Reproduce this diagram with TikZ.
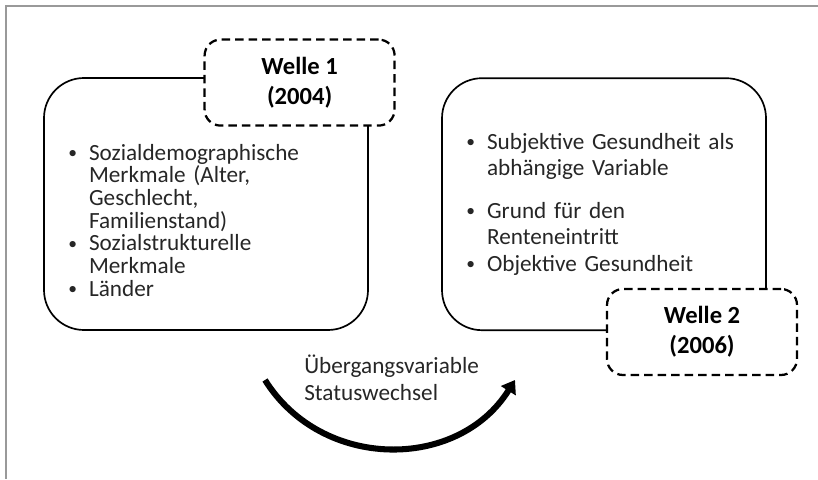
\documentclass[tikz,border=0pt]{standalone}
\usepackage{fontspec}
\setmainfont{Carlito}
\usetikzlibrary{arrows.meta,positioning}
\newcommand{\punkt}{\par\hangindent=0.52cm\hangafter=1\noindent
  \makebox[0.52cm][l]{\fontsize{12.5}{0}\selectfont\raisebox{1.3pt}{\textbullet}}\ignorespaces}

\begin{document}
\begin{tikzpicture}[
    box/.style={draw, line width=1.2pt, rounded corners=1cm, inner sep=0pt,
      minimum width=8.1cm, minimum height=6.3cm},
    welle/.style={draw, line width=1.6pt, dash pattern=on 6pt off 3.6pt,
      rounded corners=0.4cm, fill=white, minimum width=4.75cm, minimum height=2.15cm,
      align=center, font=\fontsize{17.5}{21.3}\selectfont\bfseries},
    liste/.style={anchor=north west, inner sep=0pt, text width=7cm, text=black!85},
  ]
  \useasboundingbox (0,0) rectangle (20.45,11.975);
  \draw[black!40, line width=1pt] (20.45,11.825) -- (0.15,11.825) -- (0.15,0);
  % erste Welle
  \node[box] (box1) at (5.15,6.875) {};
  \node[welle] (welle1) at (7.49,9.91) {Welle 1\\(2004)};
  \node[liste, font=\fontsize{16.5}{16.1}\selectfont] (liste1) at (1.7,8.54)
    {\raggedright
     \punkt Sozialdemographische\newline Merkmale (Alter,\newline Geschlecht,\newline Familienstand)
     \punkt Sozialstrukturelle\newline Merkmale
     \punkt Länder\par};
  % zweite Welle
  \node[box] (box2) at (15.1,6.87) {};
  \node[welle] (welle2) at (17.55,3.675) {Welle 2\\(2006)};
  \node[liste, font=\fontsize{16.5}{19}\selectfont] (liste2) at (11.65,8.92)
    {\raggedright
     \punkt Subjektive Gesundheit als\newline abhängige Variable\par\vspace{11pt}
     \punkt Grund für den\newline Renteneintritt
     \punkt Objektive Gesundheit\par};
  % Übergang
  \node[liste, font=\fontsize{16.5}{18.8}\selectfont] (uebergang) at (7.6,3.1)
    {Übergangsvariable\\Statuswechsel};
  \coordinate (bogenA) at (6.625,2.475);
  \coordinate (bogenB) at (12.875,2.475);
  \draw[line width=4.3pt, -{Triangle[length=9pt,width=12pt]}]
    (bogenA) to[bend right=58, looseness=1.1] (bogenB);
\end{tikzpicture}
\end{document}
